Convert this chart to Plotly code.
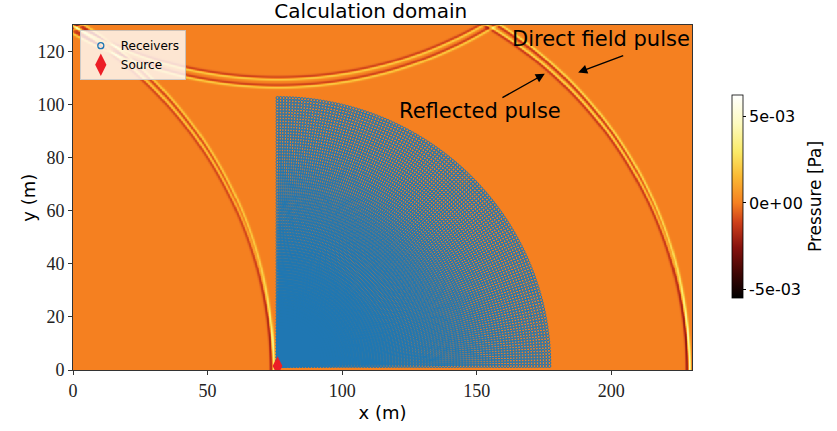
import numpy as np
import plotly.graph_objects as go

# ---- domain and grid (m) ----
domain_x = [0.0, 230.0]
domain_y = [0.0, 130.0]
grid_step = 0.25

# ---- source position (m) ----
source_x = [76.0]
source_y = [1.5]

# ---- wavefronts in the snapshot: centre (m) and amplitude (Pa) ----
# direct source, ground image, left-wall images and top-wall images
front_x = [76.0, 76.0, -78.5, -78.5, 76.0, 76.0, -78.5, -78.5]
front_y = [1.5, -1.5, 1.5, -1.5, 259.5, 262.5, 259.5, 262.5]
front_amp = [2.2e-3, 2.2e-3, 1.8e-3, 1.8e-3, 1.9e-3, 1.9e-3, 1.6e-3, 1.6e-3]
front_radius = 152.5
pulse_width = 0.65
trough_ratio = 0.55

# ---- receiver array: quarter disc around the source ----
receiver_radius_max = 101.0
receiver_rings = 92
receiver_angles = 140

# ---- colour scale ----
p_min, p_max = -5.5e-3, 6.25e-3
cbar_ticks = [-5e-3, 0.0, 5e-3]
cbar_labels = ["-5e-03", "0e+00", "5e-03"]
x_ticks = [0, 50, 100, 150, 200]
y_ticks = [0, 20, 40, 60, 80, 100, 120]

# pressure field snapshot
gx = np.arange(domain_x[0], domain_x[1] + grid_step, grid_step)
gy = np.arange(domain_y[0], domain_y[1] + grid_step, grid_step)
GX, GY = np.meshgrid(gx, gy)
field = np.zeros_like(GX)
for cx, cy, amp in zip(front_x, front_y, front_amp):
    s = (np.hypot(GX - cx, GY - cy) - front_radius) / pulse_width
    shape = s * np.exp(-s * s) / 0.4289
    shape = np.where(shape < 0, shape * trough_ratio, shape)
    field += amp * shape
field = field.astype(np.float32)

# receiver positions
rr = np.linspace(receiver_radius_max / receiver_rings, receiver_radius_max, receiver_rings)
tt = np.linspace(0.0, np.pi / 2, receiver_angles)
R, T = np.meshgrid(rr, tt)
rec_x = (source_x[0] + R * np.cos(T)).ravel()
rec_y = (source_y[0] + R * np.sin(T)).ravel()

z0 = -p_min / (p_max - p_min)
colorscale = [
    [0.0, "rgb(0,0,0)"],
    [0.12, "rgb(62,6,4)"],
    [0.25, "rgb(135,18,14)"],
    [0.37, "rgb(205,62,26)"],
    [z0, "rgb(245,128,32)"],
    [0.60, "rgb(250,186,52)"],
    [0.72, "rgb(250,234,104)"],
    [0.86, "rgb(253,250,192)"],
    [1.0, "rgb(255,255,255)"],
]

BLUE = "#1f77b4"
RED = "rgb(236,30,38)"
SANS = "DejaVu Sans"
SERIF = "Liberation Serif"

fig = go.Figure()

fig.add_trace(go.Heatmap(
    x=gx, y=gy, z=field,
    zmin=p_min, zmax=p_max,
    colorscale=colorscale,
    zsmooth="best",
    hoverinfo="skip",
    showscale=True,
    colorbar=dict(
        x=1.0643, xanchor="left", xpad=0,
        y=0.503, yanchor="middle", ypad=0,
        len=203, lenmode="pixels",
        thickness=11,
        outlinewidth=0.8, outlinecolor="black",
        ticks="outside", ticklen=3, tickcolor="black",
        tickvals=cbar_ticks, ticktext=cbar_labels,
        tickfont=dict(family=SANS, size=16, color="black"),
        title=dict(text="Pressure [Pa]", side="right",
                   font=dict(family=SANS, size=17, color="black")),
    ),
))

fig.add_trace(go.Scatter(
    x=rec_x, y=rec_y, mode="markers",
    marker=dict(symbol="circle-open", size=3, color=BLUE, line=dict(width=1.0, color=BLUE)),
    hoverinfo="skip", showlegend=False,
))

fig.add_trace(go.Scatter(
    x=source_x, y=source_y, mode="markers",
    marker=dict(symbol="diamond-tall", size=14, color=RED, line=dict(width=0)),
    hoverinfo="skip", showlegend=False,
))

# legend entries
fig.add_trace(go.Scatter(
    x=[None], y=[None], mode="markers", name="Receivers",
    marker=dict(symbol="circle-open", size=6, color=BLUE, line=dict(width=1.3, color=BLUE)),
))
fig.add_trace(go.Scatter(
    x=[None], y=[None], mode="markers", name="Source",
    marker=dict(symbol="diamond-tall", size=17, color=RED, line=dict(width=0)),
))

axis_common = dict(
    showgrid=False, zeroline=False,
    showline=True, linecolor="#333333", linewidth=1, mirror=True,
    ticks="outside", ticklen=4, tickcolor="#333333",
    tickfont=dict(family=SERIF, size=18, color="#222222"),
)

fig.update_layout(
    width=837, height=431,
    margin=dict(l=73, r=142, t=25, b=57),
    paper_bgcolor="white", plot_bgcolor="white",
    title=dict(text="Calculation domain", x=0.443, xanchor="center", y=0.99, yanchor="top",
               font=dict(family=SANS, size=20, color="black")),
    xaxis=dict(range=domain_x, tickvals=x_ticks, **axis_common,
               title=dict(text="x (m)", font=dict(family=SANS, size=18, color="black"), standoff=6)),
    yaxis=dict(range=domain_y, tickvals=y_ticks, **axis_common),
    legend=dict(
        x=0.011, y=0.985, xanchor="left", yanchor="top",
        bgcolor="rgba(255,255,255,0.8)", bordercolor="rgba(200,200,200,0.9)", borderwidth=1,
        font=dict(family=SANS, size=12, color="black"),
        itemsizing="trace", tracegroupgap=0,
    ),
    showlegend=True,
)

# y-axis title placed beside the tick labels
fig.add_annotation(xref="paper", yref="paper", x=-0.0723, y=0.5, xanchor="center", yanchor="middle",
                   text="y (m)", textangle=-90, showarrow=False,
                   font=dict(family=SANS, size=18, color="black"))

# labels and arrows for the two pulses
fig.add_annotation(x=196.0, y=124.8, text="Direct field pulse", showarrow=False,
                   font=dict(family=SANS, size=21, color="black"))
fig.add_annotation(x=187.7, y=112.1, ax=205.0, ay=118.7, axref="x", ayref="y",
                   text="", showarrow=True, arrowhead=2, arrowsize=1.3, arrowwidth=1.4,
                   arrowcolor="black", standoff=0, startstandoff=0)
fig.add_annotation(x=151.4, y=97.7, text="Reflected pulse", showarrow=False,
                   font=dict(family=SANS, size=21, color="black"))
fig.add_annotation(x=175.3, y=111.6, ax=159.0, ay=102.3, axref="x", ayref="y",
                   text="", showarrow=True, arrowhead=2, arrowsize=1.3, arrowwidth=1.4,
                   arrowcolor="black", standoff=0, startstandoff=0)

fig.write_html("out.html")
